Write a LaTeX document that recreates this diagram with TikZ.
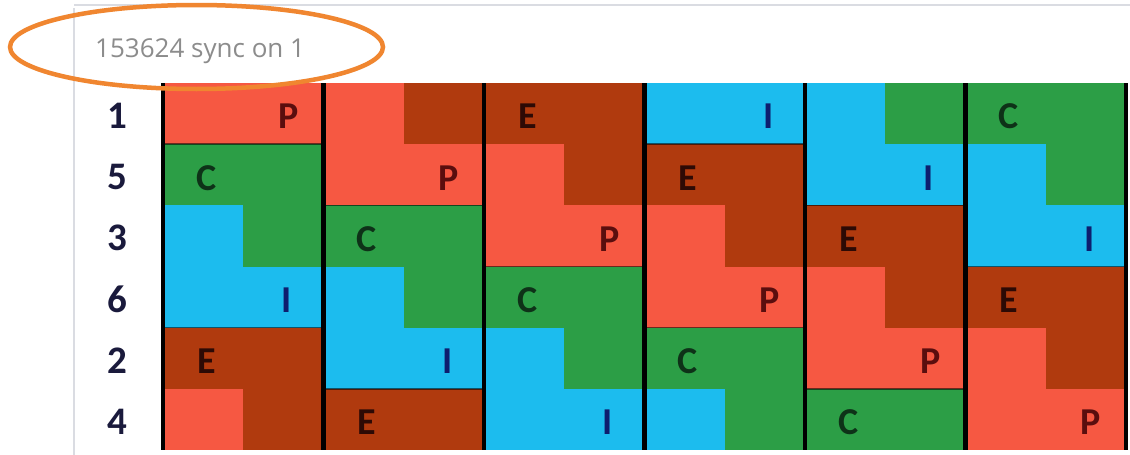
\documentclass[tikz,border=0pt]{standalone}
\usepackage{fontspec}
\setmainfont{Carlito}
\newfontfamily\uifont{Open Sans}
\usetikzlibrary{positioning}

\definecolor{taskP}{RGB}{246,88,66}
\definecolor{taskE}{RGB}{176,58,14}
\definecolor{taskC}{RGB}{44,158,70}
\definecolor{taskI}{RGB}{28,188,238}
\definecolor{inkP}{RGB}{90,14,14}
\definecolor{inkE}{RGB}{45,10,5}
\definecolor{inkC}{RGB}{14,50,24}
\definecolor{inkI}{RGB}{14,30,110}
\definecolor{inkrow}{RGB}{26,26,60}
\definecolor{ringorange}{RGB}{240,134,48}
\definecolor{panelgray}{RGB}{218,220,226}

\tikzset{
  title/.style={font=\uifont\fontsize{26}{30}\selectfont, text=black!45, inner sep=0pt},
  ring/.style={draw=ringorange, line width=4.5pt},
  panel/.style={draw=panelgray, line width=1.5pt},
  rowlbl/.style={font=\fontsize{39}{42}\selectfont\bfseries, text=inkrow, inner sep=0pt},
  tasklbl/.style={font=\fontsize{38}{40}\selectfont\bfseries, inner sep=0pt},
  colsep/.style={line width=4.5pt, black},
  rowline/.style={line width=1.6pt, black, opacity=0.55},
}

\begin{document}
\begin{tikzpicture}[x=1pt, y=-1pt]

  \def\CW{160.5}
  \def\RH{61.17}

  \fill[white] (0,0) rectangle (1130,455);
  \useasboundingbox (0,0) rectangle (1130,455);

  \draw[panel] (74,8) -- (74,455);
  \draw[panel] (74,5) -- (1130,5);

  \foreach \n [count=\k from 0] in {1,5,3,6,2,4}
    \node[rowlbl] (row-\n) at (117, 83+\k*\RH+\RH/2+2) {\n};

  \begin{scope}[shift={(163,83)}]
    % one cycle of the schedule, shifted down one row per column
    \foreach \i/\lc/\rc in {0/taskP/taskP, 1/taskC/taskC, 2/taskI/taskC,
                            3/taskI/taskI, 4/taskE/taskE, 5/taskP/taskE}
      \foreach \c in {0,...,5} {
        \pgfmathtruncatemacro\r{mod(\i+\c,6)}
        \fill[\lc] (\c*\CW, \r*\RH) rectangle ++(\CW/2, \RH);
        \fill[\rc] (\c*\CW+\CW/2, \r*\RH) rectangle ++(\CW/2, \RH);
      }

    \foreach \i in {0,3}
      \foreach \c in {0,...,5} {
        \pgfmathtruncatemacro\r{mod(\i+\c,6)}
        \ifnum\r<5
          \draw[rowline] (\c*\CW, \r*\RH+\RH) -- ++(\CW, 0);
        \fi
      }

    \foreach \i/\t/\fx in {0/P/0.78, 1/C/0.27, 3/I/0.77, 4/E/0.27}
      \foreach \c in {0,...,5} {
        \pgfmathtruncatemacro\r{mod(\i+\c,6)}
        \node[tasklbl, text=ink\t] (lbl-\t-\c) at (\c*\CW+\fx*\CW, \r*\RH+\RH/2+3) {\t};
      }

    \foreach \c in {0,...,6}
      \draw[colsep] (\c*\CW, 0) -- (\c*\CW, 6*\RH);
  \end{scope}

  \node[title, anchor=base west] (title) at (95,57) {153624 sync on 1};
  \coordinate (ring) at (196.5,47);
  \draw[ring] (ring) ellipse [x radius=186.5, y radius=42];

\end{tikzpicture}
\end{document}
